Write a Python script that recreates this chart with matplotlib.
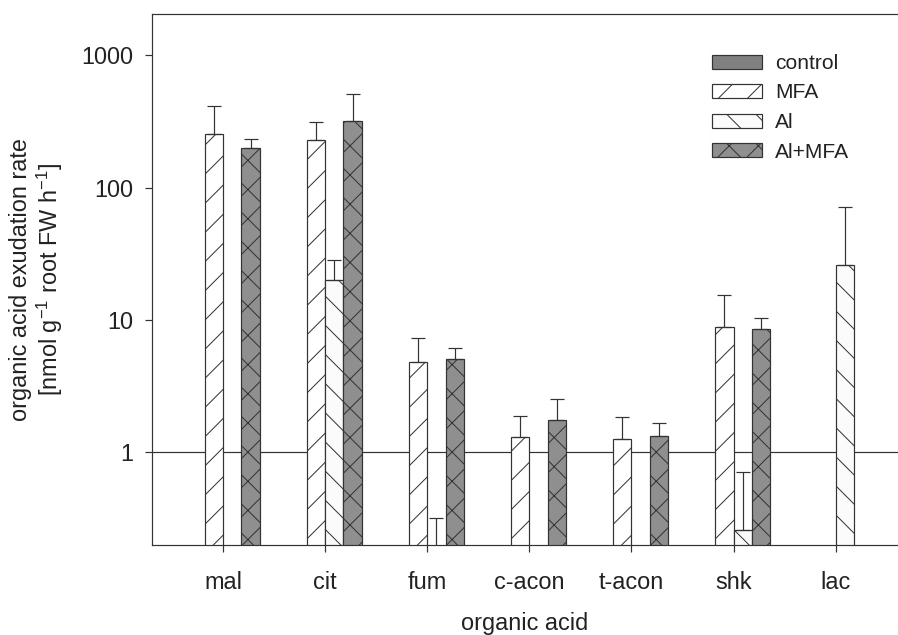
import numpy as np
import matplotlib
matplotlib.use("Agg")
import matplotlib.pyplot as plt

# organic acid exudation rates (log axis)
acids = ['mal', 'cit', 'fum', 'c-acon', 't-acon', 'shk', 'lac']
nan = np.nan
control = [nan, nan, nan, nan, nan, nan, nan]
control_err = [nan, nan, nan, nan, nan, nan, nan]
mfa = [255, 229, 4.8, 1.30, 1.26, 8.9, nan]
mfa_err = [156, 82, 2.5, 0.57, 0.58, 6.5, nan]
al = [nan, 20.2, 0.15, nan, nan, 0.26, 26.2]
al_err = [nan, 8.3, 0.17, nan, nan, 0.45, 45]
al_mfa = [199, 319, 5.1, 1.77, 1.34, 8.6, nan]
al_mfa_err = [35, 192, 1.0, 0.76, 0.34, 1.8, nan]

# render at high dpi so the hatch spacing is as coarse as in the original
DPI = 175
PT = 72.0 / DPI  # points per pixel

plt.rcParams['font.family'] = ['Liberation Sans', 'DejaVu Sans']
plt.rcParams['hatch.linewidth'] = 1.0 * PT
plt.rcParams['axes.linewidth'] = 1.2 * PT

ink = '#333333'
txt = '#222222'
fig = plt.figure(figsize=(898 / DPI, 635 / DPI), dpi=DPI)
ax = fig.add_axes([152 / 898, 1 - 545 / 635, 1 - 152 / 898, 531 / 635])

x = np.arange(len(acids))
w = 0.18
series = [
    ('control', control, control_err, '#808080', ''),
    ('MFA', mfa, mfa_err, 'white', '//'),
    ('Al', al, al_err, '#fbfbfb', '\\\\'),
    ('Al+MFA', al_mfa, al_mfa_err, '#8f8f8f', 'xx'),
]
offsets = [-1.5 * w, -0.5 * w, 0.5 * w, 1.5 * w]

for (name, vals, errs, fc, hatch), off in zip(series, offsets):
    vals = np.array(vals, dtype=float)
    errs = np.array(errs, dtype=float)
    ax.bar(x + off, vals - 1e-3, width=w, bottom=1e-3, color=fc,
           edgecolor=ink, linewidth=1.2 * PT, hatch=hatch, label=name, zorder=2)
    ax.errorbar(x + off, vals, yerr=[np.zeros_like(errs), errs], fmt='none',
                ecolor=ink, elinewidth=1.2 * PT, capsize=6.7 * PT,
                capthick=1.2 * PT, zorder=3)

ax.axhline(1, color=ink, linewidth=1.2 * PT, zorder=1)

ax.set_yscale('log')
ax.set_ylim(0.2, 2050)
ax.set_xlim(-0.695, 6.611)
ax.set_yticks([1, 10, 100, 1000])
ax.set_yticklabels(['1', '10', '100', '1000'])
ax.minorticks_off()
ax.set_xticks(x)
ax.set_xticklabels(acids)

fs = 23.5 * PT
ax.tick_params(axis='both', direction='out', length=7 * PT, width=1.2 * PT,
               color=ink, labelcolor=txt, labelsize=fs)
ax.tick_params(axis='y', pad=12 * PT)
ax.tick_params(axis='x', pad=19 * PT)
for s in ['left', 'bottom', 'top']:
    ax.spines[s].set_color(ink)
ax.spines['right'].set_visible(False)

ax.set_xlabel('organic acid', fontsize=fs, color=txt, labelpad=18 * PT)
ax.set_ylabel('organic acid exudation rate\n'
              '[nmol g$\\mathregular{^{-1}}$ root FW h$\\mathregular{^{-1}}$]',
              fontsize=fs, color=txt, labelpad=16 * PT, linespacing=1.1)

leg = ax.legend(loc='upper left', bbox_to_anchor=((712 - 152) / 746, 1 - 40 / 531),
                frameon=False, fontsize=21 * PT, handlelength=50 / 21,
                handleheight=14 / 21, handletextpad=13 / 21, labelspacing=0.5,
                borderaxespad=0, borderpad=0)
for t in leg.get_texts():
    t.set_color(txt)

fig.savefig('out.png', dpi=DPI)
